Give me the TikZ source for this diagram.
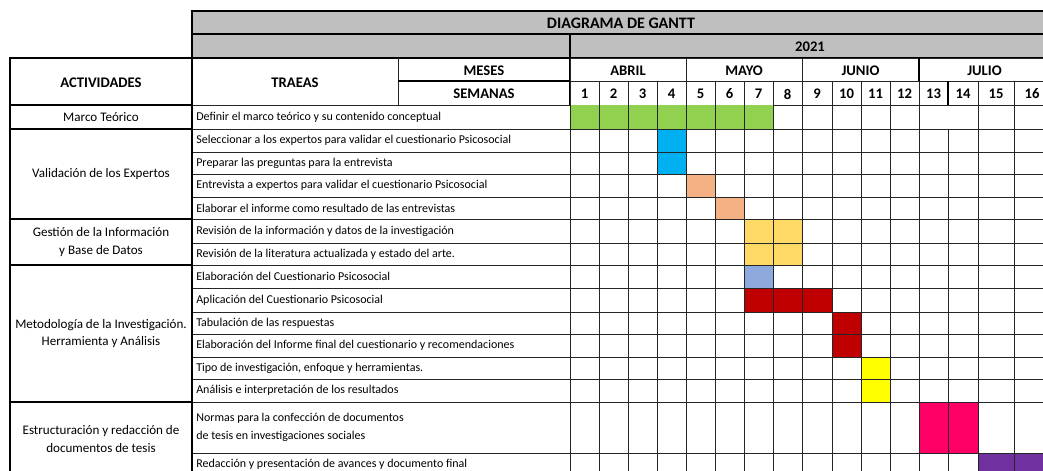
\documentclass[tikz,border=0pt]{standalone}
\usepackage{fontspec}
\setmainfont{Carlito}
\definecolor{hdrgray}{HTML}{BFBFBF}
\definecolor{cgreen}{HTML}{92D050}
\definecolor{cblue}{HTML}{00B0F0}
\definecolor{cpeach}{HTML}{F4B183}
\definecolor{cgold}{HTML}{FFD966}
\definecolor{cperi}{HTML}{8EA9DB}
\definecolor{cred}{HTML}{C00000}
\definecolor{cyellow}{HTML}{FFFF00}
\definecolor{cpink}{HTML}{FF0066}
\definecolor{cpurple}{HTML}{7030A0}
\tikzset{
  grid/.style={black!85,line width=0.55pt},
  frame/.style={black,line width=1.3pt},
  hdr/.style={font=\fontsize{11}{13}\selectfont\bfseries},
  txt/.style={font=\fontsize{9}{13}\selectfont},
  grp/.style={font=\fontsize{9.8}{13}\selectfont}
}
\begin{document}
\begin{tikzpicture}[x=0.75pt,y=-0.75pt,every node/.style={txt,inner sep=0pt}]
 \useasboundingbox (0,0) rectangle (1043,471);
 \clip (0,0) rectangle (1043,471);
 % header
 \fill[hdrgray] (192,11) rectangle (1050,58);
 \draw[frame] (192,58) -- (192,11) -- (1050,11);
 \draw[frame] (192,34) -- (1050,34);
 \draw[frame] (192,58) -- (1050,58);
 \draw[frame] (570,34) -- (570,105);
 \node[hdr,font=\fontsize{12}{14}\selectfont\bfseries] (title) at (621,23) {DIAGRAMA DE GANTT};
 \node[hdr] (year) at (810,46.5) {2021};
 \draw[frame] (10,58) rectangle (192,105);
 \draw[grid] (192,105) -- (570,105);
 \draw[grid] (398,58) -- (398,105);
 \draw[frame] (398,81) -- (570,81);
 \node[hdr] (act) at (101,82.5) {ACTIVIDADES};
 \node[hdr] (tar) at (295,82.5) {TRAEAS};
 \node[hdr] (meses) at (484,70.5) {MESES};
 \node[hdr] (semanas) at (484,94) {SEMANAS};
 % months
 \foreach \xa/\xb/\m [count=\i] in {570/686/ABRIL,686/802/MAYO,802/919/JUNIO,919/1050/JULIO}{
   \draw[grid] (\xa,58) rectangle (\xb,81);
   \node[hdr] (m\i) at ({(\xa+\xb)/2},70.5) {\m};
 }
 \draw[frame] (919,58) -- (919,81);
 % weeks
 \foreach \n/\xa/\xb in {1/570/599,2/599/628,3/628/657,4/657/686,5/686/715,6/715/744,
   7/744/773,8/773/802,9/802/832,10/832/861,11/861/890,12/890/919,13/919/948,
   14/948/978,15/978/1014,16/1014/1050}{
   \draw[grid] (\xa,81) rectangle (\xb,105);
   \node[hdr] (w\n) at ({(\xa+\xb)/2},94) {\n};
 }
 \draw[frame] (948,81) -- (948,105);
 % bars
 \fill[cgreen] (570,105) rectangle (773,129);
 \fill[cblue] (657,129) rectangle (686,174);
 \fill[cpeach] (686,174) rectangle (715,197);
 \fill[cpeach] (715,197) rectangle (744,219);
 \fill[cgold] (744,219) rectangle (802,265);
 \fill[cperi] (744,265) rectangle (773,288);
 \fill[cred] (744,288) rectangle (832,312);
 \fill[cred] (832,312) rectangle (861,357);
 \fill[cyellow] (861,357) rectangle (890,402);
 \fill[cpink] (919,402) rectangle (978,453);
 \fill[cpurple] (978,453) rectangle (1050,476);
 % grid of the tasks
 \foreach \x in {599,628,657,686,715,744,773,802,832,861,890,919,978,1014}
   \draw[grid] (\x,105) -- (\x,476);
 \draw[grid] (948,129) -- (948,476);
 \draw[grid] (192,105) -- (192,476);
 \draw[grid] (570,105) -- (570,476);
 \foreach \y in {129,152,174,197,219,243,265,288,312,334,357,379,402,453}
   \draw[grid] (192,\y) -- (1050,\y);
 % tasks
 \foreach \ya/\yb/\t [count=\i] in {
   105/129/{Definir el marco teórico y su contenido conceptual},
   129/152/{Seleccionar a los expertos para validar el cuestionario Psicosocial},
   152/174/{Preparar las preguntas para la entrevista},
   174/197/{Entrevista a expertos para validar el cuestionario Psicosocial},
   197/219/{Elaborar el informe como resultado de las entrevistas},
   219/243/{Revisión de la información y datos de la investigación},
   243/265/{Revisión de la literatura actualizada y estado del arte.},
   265/288/{Elaboración del Cuestionario Psicosocial},
   288/312/{Aplicación del Cuestionario Psicosocial},
   312/334/{Tabulación de las respuestas},
   334/357/{Elaboración del Informe final del cuestionario y recomendaciones},
   357/379/{Tipo de investigación, enfoque y herramientas.},
   379/402/{Análisis e interpretación de los resultados},
   402/453/{Normas para la confección de documentos\\de tesis en investigaciones sociales},
   453/476/{Redacción y presentación de avances y documento final}}
   \node[anchor=west,align=left] (t\i) at (196,{(\ya+\yb)/2}) {\t};
 % activities
 \foreach \ya/\yb/\g [count=\i] in {
   105/129/{Marco Teórico},
   129/219/{Validación de los Expertos},
   219/265/{Gestión de la Información\\y Base de Datos},
   265/402/{Metodología de la Investigación.\\Herramienta y Análisis},
   402/476/{Estructuración y redacción de\\documentos de tesis}}{
   \draw[frame] (10,\ya) rectangle (192,\yb);
   \node[grp,align=center] (g\i) at (101,{(\ya+\yb)/2}) {\g};
 }
\end{tikzpicture}
\end{document}
